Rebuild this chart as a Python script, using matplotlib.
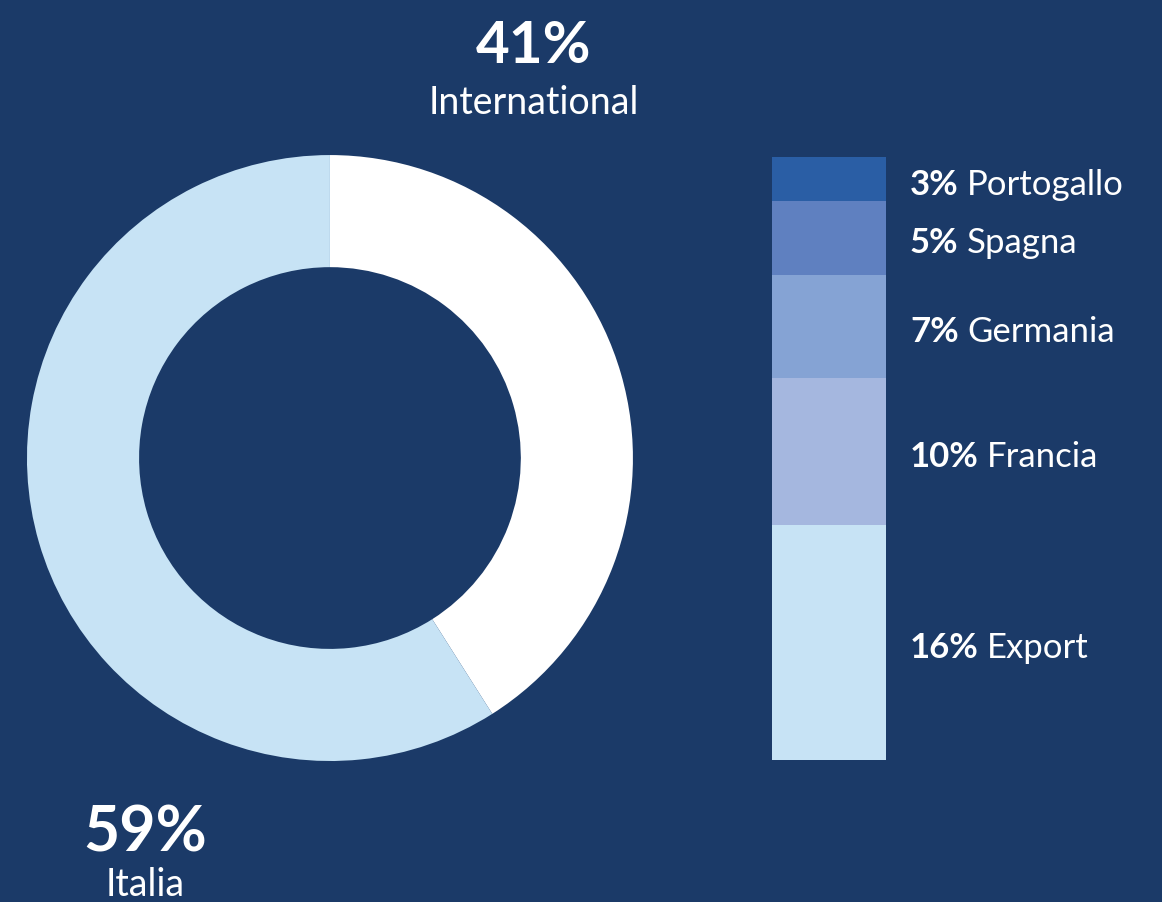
import matplotlib
matplotlib.use("Agg")
import matplotlib.pyplot as plt

# donut: share Italia vs International
pie_labels = ["International", "Italia"]
pie_values = [41, 59]
pie_colors = ["#ffffff", "#c7e3f5"]

# stacked bar: breakdown of International (bottom -> top)
bar_labels = ["Export", "Francia", "Germania", "Spagna", "Portogallo"]
bar_values = [16, 10, 7, 5, 3]
bar_colors = ["#c7e3f5", "#a5b7df", "#85a3d4", "#5f80c0", "#2a5ea5"]

bg = "#1b3a68"
plt.rcParams["font.family"] = ["Lato", "DejaVu Sans"]

fig = plt.figure(figsize=(11.62, 9.02), dpi=100, facecolor=bg)

# donut
ax = fig.add_axes([0.0232, 0.1563, 0.5215, 0.6718])
ax.set_facecolor(bg)
ax.pie(pie_values, colors=pie_colors, startangle=90, counterclock=False,
       radius=1, wedgeprops=dict(width=0.37, linewidth=0))
ax.set_xlim(-1, 1)
ax.set_ylim(-1, 1)
ax.set_aspect("equal")
ax.axis("off")

fig.text(0.459, 0.948, f"{pie_values[0]}%", color="white", fontsize=42,
         fontweight="bold", ha="center", va="center")
fig.text(0.459, 0.886, pie_labels[0], color="white", fontsize=27,
         ha="center", va="center")
fig.text(0.125, 0.076, f"{pie_values[1]}%", color="white", fontsize=45,
         fontweight="bold", ha="center", va="center")
fig.text(0.125, 0.019, pie_labels[1], color="white", fontsize=27,
         ha="center", va="center")

# stacked bar
axb = fig.add_axes([0.6644, 0.1574, 0.0981, 0.6685])
axb.set_facecolor(bg)
bottom = 0
for lab, val, col in zip(bar_labels, bar_values, bar_colors):
    axb.bar(0.5, val, width=1, bottom=bottom, color=col, linewidth=0)
    mid = bottom + val / 2
    t = axb.annotate(f"{val}%", xy=(1.21, mid), xytext=(0, -4),
                     textcoords="offset points", color="white", fontsize=25,
                     fontweight="bold", ha="left", va="center",
                     annotation_clip=False)
    axb.annotate(lab, xy=(1, 0.5), xycoords=t, xytext=(6, 0),
                 textcoords="offset points", color="white", fontsize=25,
                 ha="left", va="center")
    bottom += val
axb.set_xlim(0, 1)
axb.set_ylim(0, sum(bar_values))
axb.axis("off")

fig.savefig("out.png", dpi=100, facecolor=bg)
